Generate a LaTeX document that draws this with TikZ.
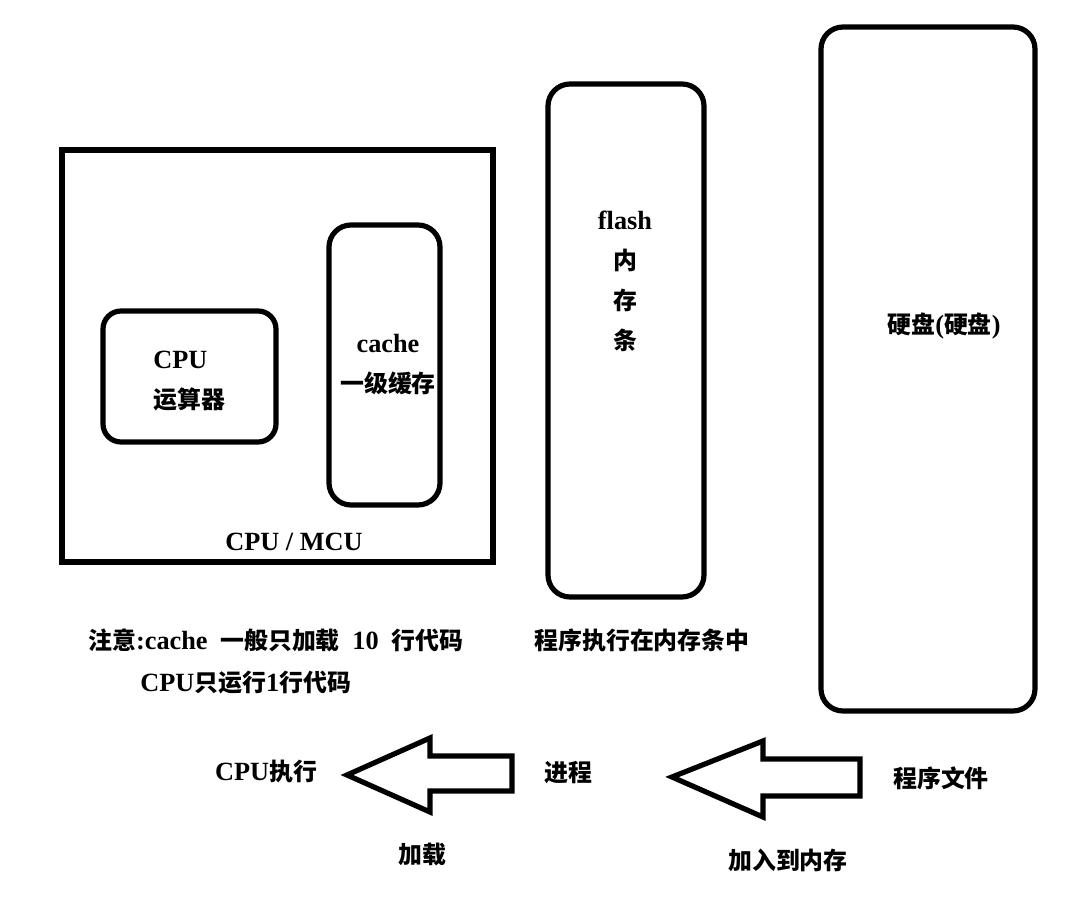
\documentclass[tikz,border=0pt]{standalone}
\usepackage{fontspec}
\setmainfont{Liberation Serif}[Scale=1.1]
\newfontfamily\cjk{Noto Sans CJK SC Bold}
\newcommand{\zh}[1]{{\cjk #1}}
\usetikzlibrary{fit}

\tikzset{
  frame/.style={draw, line width=1.5mm, inner sep=0pt},
  roundbox/.style={draw, line width=1.3mm, rounded corners=5.5mm, inner sep=0pt},
  lbl/.style={font=\bfseries\fontsize{17}{28.5}\selectfont, inner sep=0pt},
  blockarrow/.style={line width=1.3mm, line join=miter},
}

\begin{document}
\begin{tikzpicture}[x=0.025cm, y=-0.025cm]
\useasboundingbox (0,0) rectangle (1067,911);

% boxes
\node[frame, fit={(62,150) (493,562)}] (mcu) {};
\node[roundbox, rounded corners=4.5mm, fit={(103,311) (276,442)}] (alu) {};
\node[roundbox, fit={(329,225) (440,505)}] (cache) {};
\node[roundbox, fit={(548,84) (704,597)}] (flash) {};
\node[roundbox, fit={(821,27) (1035,711)}] (disk) {};

% labels inside
\node[lbl, anchor=west, align=left] (aluText) at (153,381) {CPU\\\zh{运算器}};
\node[lbl, align=center] (cacheText) at (388,365) {cache\\\zh{一级缓存}};
\node[lbl] (mcuText) at (294,542) {CPU / MCU};
\node[lbl, align=center] (flashText) at (625,281) {flash\\\zh{内}\\\zh{存}\\\zh{条}};
\node[lbl] (diskText) at (944,326) {\zh{硬盘}(\zh{硬盘})};

% notes
\node[lbl, anchor=west] (note1) at (88,640)
  {\zh{注意}:cache\hspace{9pt}\zh{一般只加载}\hspace{9pt}10\hspace{9pt}\zh{行代码}};
\node[lbl, anchor=west] (note2) at (140,683) {CPU\zh{只运行}1\zh{行代码}};
\node[lbl] (runText) at (642,640) {\zh{程序执行在内存条中}};

% flow
\node[lbl] (exec) at (266,772) {CPU\zh{执行}};
\node[lbl] (proc) at (568,773) {\zh{进程}};
\node[lbl] (file) at (941,778) {\zh{程序文件}};
\node[lbl] (load) at (422,855) {\zh{加载}};
\node[lbl] (toMem) at (788,860) {\zh{加入到内存}};

\draw[blockarrow] (347,775) -- (430,738) -- (430,756) -- (512,756)
  -- (512,791) -- (430,791) -- (430,812) -- cycle;
\draw[blockarrow] (672,777) -- (763,741) -- (763,759) -- (860,759)
  -- (860,796) -- (763,796) -- (763,817) -- cycle;
\end{tikzpicture}
\end{document}
